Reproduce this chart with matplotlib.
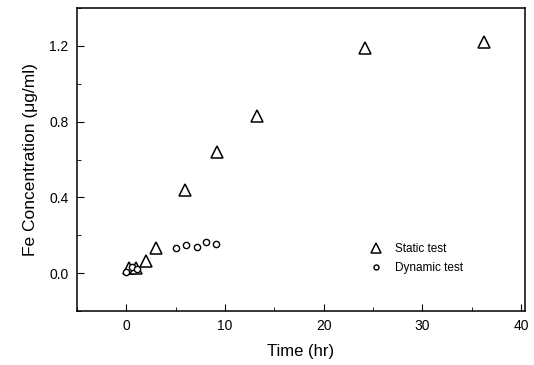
import matplotlib
matplotlib.use("Agg")
import matplotlib.pyplot as plt
from matplotlib.ticker import MultipleLocator

plt.rcParams["font.family"] = ["Liberation Sans", "DejaVu Sans"]

# values
static_t = [0.25, 1, 2, 3, 6, 9.2, 13.2, 24.2, 36.3]
static_fe = [0.025, 0.025, 0.065, 0.13, 0.44, 0.64, 0.83, 1.19, 1.22]
dynamic_t = [0, 0.6, 1.1, 5, 6.1, 7.2, 8.1, 9.1]
dynamic_fe = [0.008, 0.03, 0.02, 0.13, 0.15, 0.14, 0.165, 0.155]

fig = plt.figure(figsize=(5.34, 3.65), dpi=100)
ax = fig.add_axes([0.144, 0.148, 0.839, 0.83])

ax.plot(static_t, static_fe, linestyle="none", marker="^", markersize=9,
        markerfacecolor="white", markeredgecolor="black", markeredgewidth=1.1,
        label="Static test")
ax.plot(dynamic_t, dynamic_fe, linestyle="none", marker="o", markersize=4.5,
        markerfacecolor="white", markeredgecolor="black", markeredgewidth=1.0,
        label="Dynamic test")

ax.set_xlim(-5, 40.4)
ax.set_ylim(-0.2, 1.4)
ax.xaxis.set_major_locator(MultipleLocator(10))
ax.xaxis.set_minor_locator(MultipleLocator(5))
ax.yaxis.set_major_locator(MultipleLocator(0.4))
ax.yaxis.set_minor_locator(MultipleLocator(0.2))
ax.yaxis.set_major_formatter(matplotlib.ticker.FormatStrFormatter("%.1f"))
ax.tick_params(which="both", direction="in", top=False, right=False, labelsize=10)
ax.tick_params(which="major", length=5, pad=6)
ax.tick_params(which="minor", length=3)
for s in ax.spines.values():
    s.set_linewidth(1.1)

ax.set_xlabel("Time (hr)", fontsize=12, labelpad=8)
ax.set_ylabel("Fe Concentration (μg/ml)", fontsize=12.5, labelpad=8)

ax.legend(loc="upper left", bbox_to_anchor=(0.617, 0.26), frameon=False,
          fontsize=8.5, handletextpad=0.6, labelspacing=0.6, markerscale=0.8)

fig.savefig("out.png", dpi=100)
